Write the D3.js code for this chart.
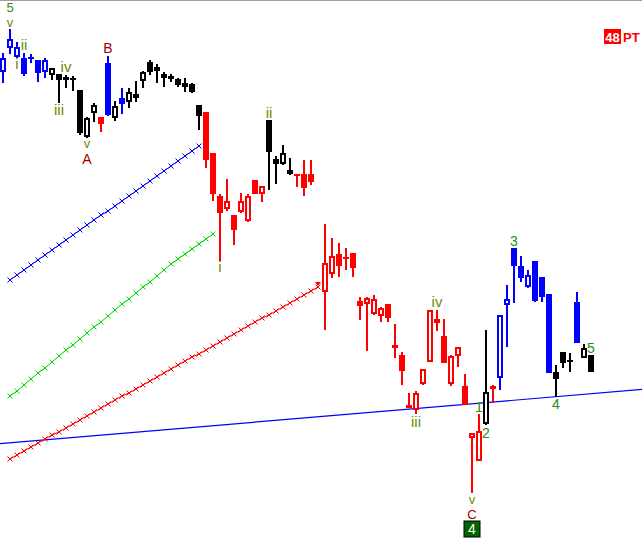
<!DOCTYPE html>
<html>
<head>
<meta charset="utf-8">
<script src="https://cdn.jsdelivr.net/npm/d3@7"></script>
<style>
  body { margin: 0; background: #ffffff; }
  svg { display: block; }
  text { font-family: "Liberation Sans", Arial, sans-serif; }
</style>
</head>
<body>
<svg id="chart" width="642" height="544"></svg>
<script>
// ---- bar data (one entry per session; null = no trading) ----
const opens = [
  928, 952, 943, 942, 943, 940, 928, 925, 926, 920,
  922, 910, 863, 887, 883, 937, 882, 902, 898, 906,
  919, 938, 933, 926, 924, 921, 917, 916, 895, 888,
  847, 804, 791, 785, 788, 779, 820, 806, 880, 841,
  836, 830, 826, 826, 826, null, 708, 726, 746, 743,
  747, 699, 696, 686, 684, 696, 655, 645, 595, 590,
  616, 638, 681, 664, 616, 644, 614, 562, 539, 576,
  614, 622, 695, 752, 734, 713, 739, 723, 706, 628,
  648, 640, 698, 642, 645
];
const highs = [
  947, 971, 958, 947, 946, 940, 942, 932, 926, 925,
  924, 910, 883, 897, 883, 944, 899, 912, 912, 919,
  929, 940, 936, 928, 926, 922, 922, 917, 895, 888,
  847, 806, 821, 785, 807, 806, 820, 814, 880, 844,
  855, 842, 826, 840, 840, null, 776, 762, 757, 752,
  747, 703, 703, 705, 693, 696, 676, 648, 607, 609,
  631, 690, 690, 681, 645, 653, 626, 567, 586, 670,
  615, 685, 715, 752, 744, 730, 739, 723, 706, 635,
  648, 647, 708, 656, 645
];
const lows = [
  917, 946, 942, 924, 937, 918, 922, 920, 897, 912,
  909, 865, 862, 878, 868, 884, 879, 886, 892, 898,
  912, 925, 917, 913, 918, 913, 908, 907, 870, 832,
  799, 739, 789, 755, 787, 778, 806, 798, 810, 816,
  835, 825, 813, 804, 815, null, 670, 722, 723, 730,
  723, 680, 649, 685, 678, 678, 642, 615, 592, 586,
  615, 638, 669, 637, 614, 633, 595, 507, 539, 575,
  597, 610, 653, 697, 718, 712, 698, 698, 627, 603,
  632, 628, 657, 642, 628
];
const closes = [
  942, 961, 953, 926, 941, 927, 940, 932, 920, 923,
  920, 867, 882, 895, 876, 885, 894, 896, 908, 902,
  928, 928, 929, 922, 921, 915, 913, 908, 884, 840,
  806, 787, 799, 770, 799, 804, 806, 814, 848, 836,
  847, 826, 824, 812, 818, null, 737, 744, 734, 741,
  732, 694, 702, 701, 692, 682, 652, 629, 592, 607,
  631, 690, 677, 637, 644, 653, 595, 567, 569, 608,
  611, 685, 701, 734, 722, 725, 699, 703, 627, 621,
  637, 638, 657, 652, 628
];
// trend state of each bar: b = up (blue), k = neutral (black), r = down (red)
const barTrend = ("bbbbbbbkkkkkkkrbkbkkkkkkkkkkkrrrrrrrrrkkkkrrr-" +
                  "rrrrrrrrrrrrrrrrrrrrrrrkrbbbbbbbbkkkbkk").split("");

// ---- displaced moving averages (start at bar 1) ----
const maBlue = [
  720, 725, 730, 735, 740, 745, 750, 755, 760, 765,
  770, 775, 780, 785, 789, 794, 799, 804, 809, 814,
  819, 824, 829, 834, 839, 844, 849, 854
];
const maGreen = [
  604, 609, 615, 621, 627, 632, 638, 644, 650, 655,
  661, 667, 673, 678, 684, 690, 696, 701, 707, 713,
  718, 724, 730, 736, 741, 746, 751, 756, 761, 766
];
const maRed = [
  541, 545, 549, 553, 557, 561, 565, 568, 572, 576,
  580, 584, 588, 592, 596, 600, 604, 607, 611, 615,
  619, 623, 627, 631, 635, 639, 643, 646, 650, 654,
  658, 662, 666, 670, 674, 678, 682, 685, 689, 693,
  697, 701, 705, 709, 713
];
const maStart = 1;

// ---- long-term trend line (bar index, price) ----
const trendBars = [-1, 92];
const trendPrices = [556, 611];

// ---- Elliott wave labels: text, bar, price (baseline), style ----
const waveText  = ["5", "v", "ii", "i", "iv", "iii", "B", "v", "A", "ii", "i", "iv", "iii", "3", "4", "5", "1", "2", "v", "C"];
const waveBar   = [1,   1,   3,    2,   9,    8,     15,  12,  12,  38,   31,  62,   59,    73,  79,  84,  68,  69,  67,  67];
const wavePrice = [988, 973, 950,  931, 928,  885,   947, 852, 836, 882,  728, 693,  573,   754, 591, 647, 588, 562, 496, 481];
const waveKind  = ["d", "m", "m",  "m", "m",  "m",   "x", "m", "x", "m",  "m", "m",  "m",   "d", "d", "d", "d", "d", "m", "x"];
const waveSize  = [13,  13,  15,   15,  15,   15,    14,  13,  14,  15,   15,  15,   15,    14,  14,  14,  14,  14,  13,  13];

// boxed cycle count under the low
const boxText = "4";
const boxBar = 67;
const boxPrice = 466;

// indicator readout
const ptValue = "48";
const ptLabel = "PT";

// ---- scales ----
const W = 642, H = 544;
const svg = d3.select("#chart");
const x = d3.scaleLinear().domain([0, 84]).range([3, 591]);
const y = d3.scaleLinear().domain([456, 1000]).range([H, 0]);

const trendColor = { b: "#0000ff", k: "#000000", r: "#ff0000" };
const waveColor = { d: "#2f8a14", m: "#6a8c00", x: "#a00000" };

// frame line along the top
svg.append("line").attr("x1", 0).attr("x2", W).attr("y1", 0.5).attr("y2", 0.5)
  .attr("stroke", "#a0a0a0").attr("stroke-width", 1);

// ---- trend line ----
svg.append("line")
  .attr("x1", x(trendBars[0])).attr("y1", y(trendPrices[0]))
  .attr("x2", x(trendBars[1])).attr("y2", y(trendPrices[1]))
  .attr("stroke", "#0000ff").attr("stroke-width", 1.2);

// ---- moving averages with x markers ----
function drawMA(values, color) {
  const pts = values.map((v, k) => [x(maStart + k), y(v)]);
  svg.append("path")
    .attr("d", d3.line()(pts))
    .attr("fill", "none").attr("stroke", color).attr("stroke-width", 1);
  const g = svg.append("g").attr("stroke", color).attr("stroke-width", 1);
  pts.forEach(([px, py]) => {
    g.append("path").attr("d", `M${px - 2.5},${py - 2.5}L${px + 2.5},${py + 2.5}M${px - 2.5},${py + 2.5}L${px + 2.5},${py - 2.5}`);
  });
  return pts[pts.length - 1];
}
drawMA(maBlue, "#0000ff");
drawMA(maGreen, "#00dd00");
const redEnd = drawMA(maRed, "#ff0000");
// small end-of-average pointer
svg.append("path")
  .attr("d", `M${redEnd[0] - 3},${redEnd[1] - 5}L${redEnd[0] + 3},${redEnd[1] - 5}L${redEnd[0]},${redEnd[1] - 1}Z`)
  .attr("fill", "#ff0000");

// ---- candles ----
const bars = d3.range(opens.length)
  .filter(i => opens[i] !== null)
  .map(i => ({ i, o: opens[i], h: highs[i], l: lows[i], c: closes[i], t: barTrend[i] }));

const candle = svg.append("g").attr("shape-rendering", "crispEdges")
  .selectAll("g").data(bars).join("g");

candle.append("rect")
  .attr("x", d => Math.round(x(d.i)) - 1)
  .attr("width", 2)
  .attr("y", d => y(d.h))
  .attr("height", d => Math.max(1, y(d.l) - y(d.h)))
  .attr("fill", d => trendColor[d.t]);

candle.each(function (d) {
  const g = d3.select(this);
  const cx = Math.round(x(d.i));
  const top = y(Math.max(d.o, d.c));
  const bot = y(Math.min(d.o, d.c));
  const col = trendColor[d.t];
  if (d.c > d.o) {
    // rising bar: hollow body
    g.append("rect")
      .attr("x", cx - 2).attr("width", 4)
      .attr("y", top + 1).attr("height", Math.max(0, bot - top - 2))
      .attr("fill", "#ffffff").attr("stroke", col).attr("stroke-width", 2);
  } else {
    g.append("rect")
      .attr("x", cx - 3).attr("width", 6)
      .attr("y", top).attr("height", Math.max(2, bot - top))
      .attr("fill", col);
  }
});

// ---- wave labels ----
const labels = svg.append("g");
waveText.forEach((t, k) => {
  labels.append("text")
    .attr("x", x(waveBar[k]))
    .attr("y", y(wavePrice[k]))
    .attr("text-anchor", "middle")
    .attr("font-size", waveSize[k])
    .attr("fill", waveColor[waveKind[k]])
    .text(t);
});

// boxed count
const bx = x(boxBar), by = y(boxPrice);
svg.append("rect").attr("x", bx - 8).attr("y", by - 13).attr("width", 16).attr("height", 16)
  .attr("fill", "#006400").attr("stroke", "#000").attr("stroke-width", 1);
svg.append("text").attr("x", bx).attr("y", by).attr("text-anchor", "middle")
  .attr("font-size", 14).attr("fill", "#ffffff").text(boxText);

// indicator readout, top right
svg.append("rect").attr("x", 604).attr("y", 29).attr("width", 17).attr("height", 15).attr("fill", "#ff0000");
svg.append("text").attr("x", 612.5).attr("y", 42).attr("text-anchor", "middle")
  .attr("font-size", 13).attr("font-weight", "bold").attr("fill", "#ffffff").text(ptValue);
svg.append("text").attr("x", 623).attr("y", 42)
  .attr("font-size", 13).attr("font-weight", "bold").attr("fill", "#ff0000").text(ptLabel);
</script>
</body>
</html>
